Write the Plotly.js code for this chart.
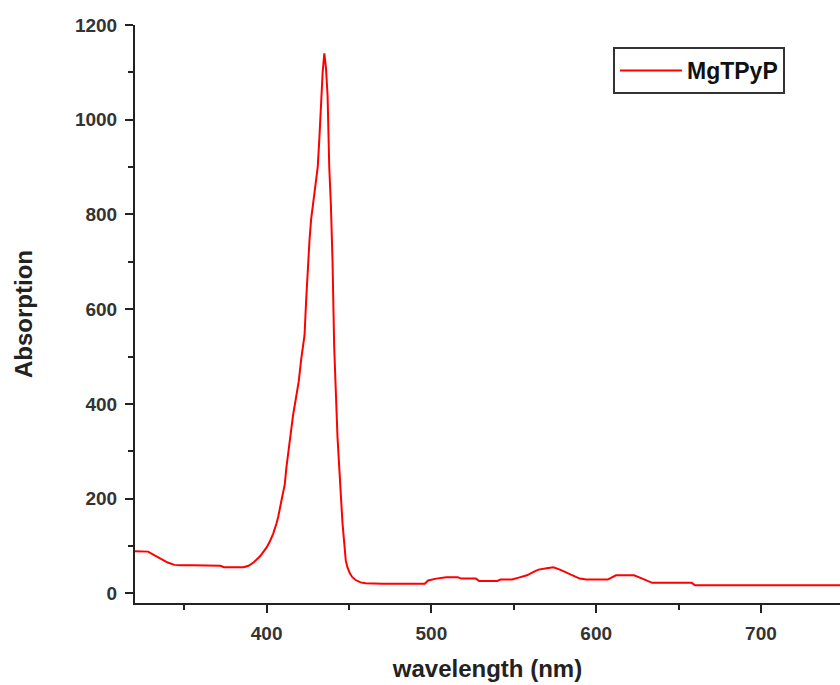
<!DOCTYPE html>
<html>
<head>
<meta charset="utf-8">
<script src="https://cdn.plot.ly/plotly-3.0.1.min.js"></script>
<style>html,body{margin:0;padding:0;background:#fff;}#chart{width:840px;height:685px;}</style>
</head>
<body>
<div id="chart"></div>
<script>
// Wavelength (nm) and absorption values
const wavelength = [320, 325, 328, 332, 336, 340, 344, 348, 355, 365, 372, 374, 380, 386, 389, 392, 396, 400, 402, 404, 406, 407, 409, 411, 412, 413.5, 415, 416, 417.5, 419.5, 421, 423, 424, 425, 426, 427, 428, 429, 430, 431, 432, 433, 434, 435, 436, 437, 438, 439, 440, 441, 442, 443, 444, 445, 446, 447, 448, 449, 450.5, 452, 454, 457, 460, 470, 485, 496, 498, 503, 509, 516, 518, 527, 529, 540, 542, 549, 553, 558, 562, 565, 570, 574, 578, 584, 590, 594, 607, 612, 623, 628, 634, 658, 660, 700, 748];
const absorption = [89, 89, 88, 80, 72, 65, 60, 59, 59, 59, 58, 55, 55, 55, 58, 65, 78, 97, 110, 126, 148, 161, 196, 230, 266, 308, 345, 375, 406, 448, 495, 545, 620, 690, 745, 790, 820, 840, 870, 900, 960, 1050, 1100, 1140, 1110, 1050, 900, 820, 700, 520, 420, 330, 270, 200, 150, 110, 70, 55, 42, 34, 28, 23, 21, 20, 20, 20, 27, 31, 34, 34, 31, 31, 26, 26, 29, 29, 33, 38, 45, 50, 53, 55, 50, 40, 31, 29, 29, 38, 38, 31, 22, 22, 17, 17, 17];
const seriesName = "MgTPyP";
const xTickVals = [400, 500, 600, 700];
const yTickVals = [0, 200, 400, 600, 800, 1000, 1200];

const trace = {
  x: wavelength,
  y: absorption,
  type: 'scatter',
  mode: 'lines',
  name: seriesName,
  line: {color: '#ff0000', width: 2}
};

const tickFont = {family: 'Liberation Sans, Arial, sans-serif', size: 19, color: '#333333', weight: 'bold'};
const titleFont = {family: 'Liberation Sans, Arial, sans-serif', size: 24, color: '#222222', weight: 'bold'};

const layout = {
  width: 840,
  height: 685,
  margin: {l: 135, r: 0, t: 25, b: 82, pad: 0},
  paper_bgcolor: '#ffffff',
  plot_bgcolor: '#ffffff',
  showlegend: true,
  legend: {
    x: 0.678, y: 0.962, xanchor: 'left', yanchor: 'top',
    bordercolor: '#333333', borderwidth: 2, bgcolor: '#ffffff',
    font: {family: 'Liberation Sans, Arial, sans-serif', size: 23, color: '#111111', weight: 'bold'},
    itemwidth: 62
  },
  xaxis: {
    range: [320.1, 748],
    tickvals: xTickVals,
    ticks: 'outside', ticklen: 8, tickwidth: 2, tickcolor: '#222',
    showline: true, linewidth: 2, linecolor: '#222',
    showgrid: false, zeroline: false,
    tickfont: tickFont,
    ticklabelstandoff: 4,
    minor: {dtick: 50, tick0: 0, ticks: 'outside', ticklen: 5, tickwidth: 2, tickcolor: '#222', showgrid: false},
    title: {text: 'wavelength (nm)', font: titleFont, standoff: 17}
  },
  yaxis: {
    range: [-20.5, 1200],
    tickvals: yTickVals,
    ticks: 'outside', ticklen: 8, tickwidth: 2, tickcolor: '#222',
    showline: true, linewidth: 2, linecolor: '#222',
    showgrid: false, zeroline: false,
    tickfont: tickFont,
    ticklabelstandoff: 4,
    minor: {dtick: 100, tick0: 0, ticks: 'outside', ticklen: 5, tickwidth: 2, tickcolor: '#222', showgrid: false},
    title: {text: 'Absorption', font: titleFont, standoff: 36}
  }
};

Plotly.newPlot('chart', [trace], layout, {displayModeBar: false, staticPlot: true});
</script>
</body>
</html>
